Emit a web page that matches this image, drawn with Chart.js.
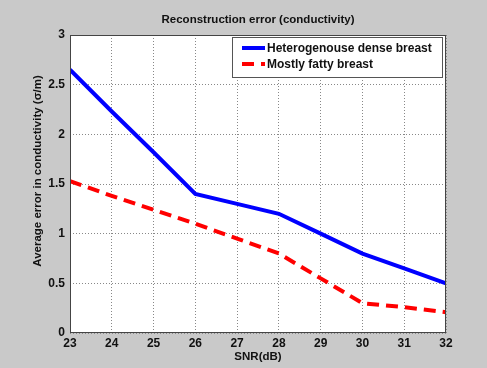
<!DOCTYPE html>
<html>
<head>
<meta charset="utf-8">
<script src="https://cdn.jsdelivr.net/npm/chart.js@4"></script>
<style>
  html, body { margin: 0; padding: 0; background: #c9c9c9; }
  #wrap { width: 487px; height: 368px; }
</style>
</head>
<body>
<div id="wrap"><canvas id="c" width="487" height="368"></canvas></div>
<script>
// SNR values (dB) and average reconstruction error in conductivity (S/m)
const snr = [23, 24, 25, 26, 27, 28, 29, 30, 31, 32];
const denseBreast = [2.65, 2.23, 1.82, 1.40, 1.30, 1.20, 1.00, 0.80, 0.65, 0.50];
const fattyBreast = [1.53, 1.38, 1.24, 1.10, 0.95, 0.80, 0.55, 0.30, 0.26, 0.21];
const seriesNames = ['Heterogenouse dense breast', 'Mostly fatty breast'];
const yTicks = [0, 0.5, 1, 1.5, 2, 2.5, 3];
const chartTitle = 'Reconstruction error (conductivity)';
const xTitle = 'SNR(dB)';
const yTitle = 'Average error in conductivity (\u03c3/m)';

const FONT = 'Liberation Sans, Arial, sans-serif';

const toPoints = (xs, ys) => xs.map((x, i) => ({ x: x, y: ys[i] }));

// Grey figure background, white axes area, black axes box, titles
const frame = {
  id: 'frame',
  beforeDraw(chart) {
    const { ctx, chartArea: a } = chart;
    ctx.save();
    ctx.fillStyle = '#c9c9c9';
    ctx.fillRect(0, 0, chart.width, chart.height);
    ctx.fillStyle = '#ffffff';
    ctx.fillRect(a.left, a.top, a.right - a.left, a.bottom - a.top);
    ctx.fillStyle = '#111';
    ctx.font = 'bold 11.5px ' + FONT;
    ctx.textAlign = 'center';
    ctx.textBaseline = 'middle';
    const cx = (a.left + a.right) / 2;
    ctx.fillText(chartTitle, cx, a.top - 15);
    ctx.fillText(xTitle, cx, a.bottom + 24);
    ctx.translate(a.left - 32, (a.top + a.bottom) / 2 - 13);
    ctx.rotate(-Math.PI / 2);
    ctx.fillText(yTitle, 0, 0);
    ctx.restore();
  },
  afterDatasetsDraw(chart) {
    const { ctx, chartArea: a } = chart;
    ctx.save();
    ctx.strokeStyle = '#444';
    ctx.lineWidth = 1;
    ctx.strokeRect(a.left + 0.5, a.top + 0.5, a.right - a.left - 1, a.bottom - a.top - 1);
    ctx.restore();
  }
};

// Boxed legend in the upper-right corner of the axes
const boxLegend = {
  id: 'boxLegend',
  afterDatasetsDraw(chart) {
    const { ctx, chartArea: a } = chart;
    const w = 210, h = 40;
    const x0 = a.right - w - 4, y0 = a.top + 2;
    ctx.save();
    ctx.fillStyle = '#ffffff';
    ctx.fillRect(x0, y0, w, h);
    ctx.strokeStyle = '#555';
    ctx.lineWidth = 1;
    ctx.strokeRect(x0 + 0.5, y0 + 0.5, w, h);
    ctx.font = 'bold 12px ' + FONT;
    ctx.textBaseline = 'middle';
    chart.data.datasets.forEach((ds, i) => {
      const y = y0 + 11 + i * 16;
      ctx.strokeStyle = ds.borderColor;
      ctx.lineWidth = ds.borderWidth;
      ctx.setLineDash(ds.borderDash || []);
      ctx.beginPath();
      ctx.moveTo(x0 + 10, y);
      ctx.lineTo(x0 + 33, y);
      ctx.stroke();
      ctx.setLineDash([]);
      ctx.fillStyle = '#111';
      ctx.fillText(ds.label, x0 + 35, y + 0.5);
    });
    ctx.restore();
  }
};

new Chart(document.getElementById('c'), {
  type: 'line',
  data: {
    datasets: [
      {
        label: seriesNames[0],
        data: toPoints(snr, denseBreast),
        borderColor: '#0000ff',
        borderWidth: 4,
        pointRadius: 0,
        tension: 0,
        fill: false
      },
      {
        label: seriesNames[1],
        data: toPoints(snr, fattyBreast),
        borderColor: '#ff0000',
        borderWidth: 4,
        borderDash: [12, 7],
        pointRadius: 0,
        tension: 0,
        fill: false
      }
    ]
  },
  plugins: [frame, boxLegend],
  options: {
    responsive: false,
    animation: false,
    devicePixelRatio: 1,
    layout: { padding: { left: 30, right: 41, top: 35, bottom: 0 } },
    plugins: {
      legend: { display: false },
      tooltip: { enabled: false },
      title: { display: false }
    },
    scales: {
      x: {
        type: 'linear',
        min: 23,
        max: 32,
        afterFit(scale) { scale.height = 35; },
        afterBuildTicks(scale) { scale.ticks = snr.map(v => ({ value: v })); },
        ticks: {
          color: '#111',
          font: { family: FONT, size: 12, weight: 'bold' },
          padding: 3,
          maxRotation: 0,
          autoSkip: false
        },
        grid: {
          color: '#888',
          lineWidth: 1,
          drawTicks: false,
          tickLength: 0
        },
        border: { display: false, dash: [1, 2] }
      },
      y: {
        min: 0,
        max: 3,
        afterFit(scale) { scale.width = 40; },
        afterBuildTicks(scale) { scale.ticks = yTicks.map(v => ({ value: v })); },
        ticks: {
          color: '#111',
          font: { family: FONT, size: 12, weight: 'bold' },
          padding: 5,
          callback: v => String(v)
        },
        grid: {
          color: '#888',
          lineWidth: 1,
          drawTicks: false,
          tickLength: 0
        },
        border: { display: false, dash: [1, 2] }
      }
    }
  }
});
</script>
</body>
</html>
